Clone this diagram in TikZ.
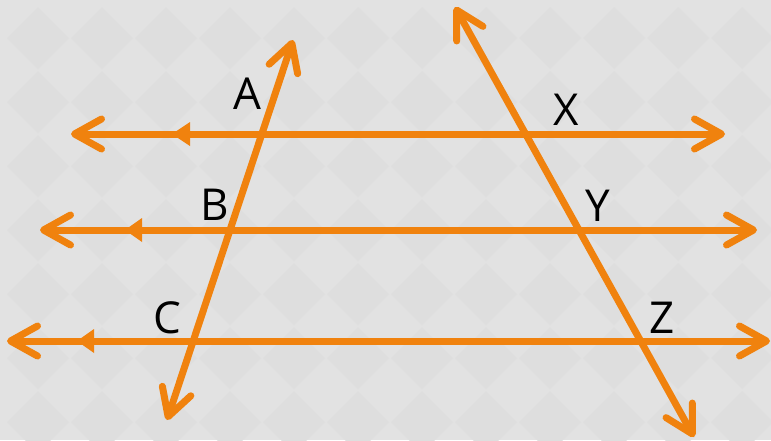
\documentclass[tikz,border=0pt]{standalone}
\usepackage{fontspec}
\setmainfont{Open Sans}
\usetikzlibrary{arrows.meta,calc}
\definecolor{LineOrange}{RGB}{240,130,14}
\definecolor{BgGray}{RGB}{226,226,226}
\definecolor{TileGray}{RGB}{222,222,222}

\begin{document}
\begin{tikzpicture}[x=1pt,y=-1pt,
    ray/.style={draw=LineOrange, line width=7pt, line cap=round,
                {Straight Barb[round,length=27pt,width=30pt]}-{Straight Barb[round,length=27pt,width=30pt]}},
    lbl/.style={inner sep=0pt, font=\fontsize{44}{48}\selectfont},
    tick/.style={fill=LineOrange}
]
  \useasboundingbox (0,0) rectangle (771,440);
  \clip (0,0) rectangle (771,440);
  % background tiles
  \fill[BgGray] (0,0) rectangle (771,440);
  \foreach \i in {0,...,12}{
    \foreach \j in {0,...,6}{
      \fill[TileGray] (38+64*\i,7+64*\j) -- ++(31,31) -- ++(-31,31) -- ++(-31,-31) -- cycle;
    }
  }

  % parallel lines
  \coordinate (aw) at (71,134);  \coordinate (ae) at (725,134);
  \coordinate (bw) at (40,230);  \coordinate (be) at (757,230);
  \coordinate (cw) at (7,341);   \coordinate (ce) at (770,341);
  % transversals
  \coordinate (t1s) at (167,420); \coordinate (t1n) at (293,40);
  \coordinate (t2n) at (455,7);   \coordinate (t2s) at (694,437);

  \draw[ray] (aw) -- (ae);
  \draw[ray] (bw) -- (be);
  \draw[ray] (cw) -- (ce);
  \draw[ray] (t1s) -- (t1n);
  \draw[ray] (t2n) -- (t2s);

  % parallel marks
  \fill[tick] ($(aw)+(101,0)$) -- ++(18,-12) -- ++(0,24) -- cycle;
  \fill[tick] ($(bw)+(85,0)$) -- ++(17,-12) -- ++(0,24) -- cycle;
  \fill[tick] ($(cw)+(70,0)$) -- ++(17,-12) -- ++(0,24) -- cycle;

  % labels
  \node[lbl] (A) at (247,94)  {A};
  \node[lbl] (B) at (215,205) {B};
  \node[lbl] (C) at (167,318) {C};
  \node[lbl] (X) at (566,110) {X};
  \node[lbl] (Y) at (598,206) {Y};
  \node[lbl] (Z) at (662,318) {Z};
\end{tikzpicture}
\end{document}
